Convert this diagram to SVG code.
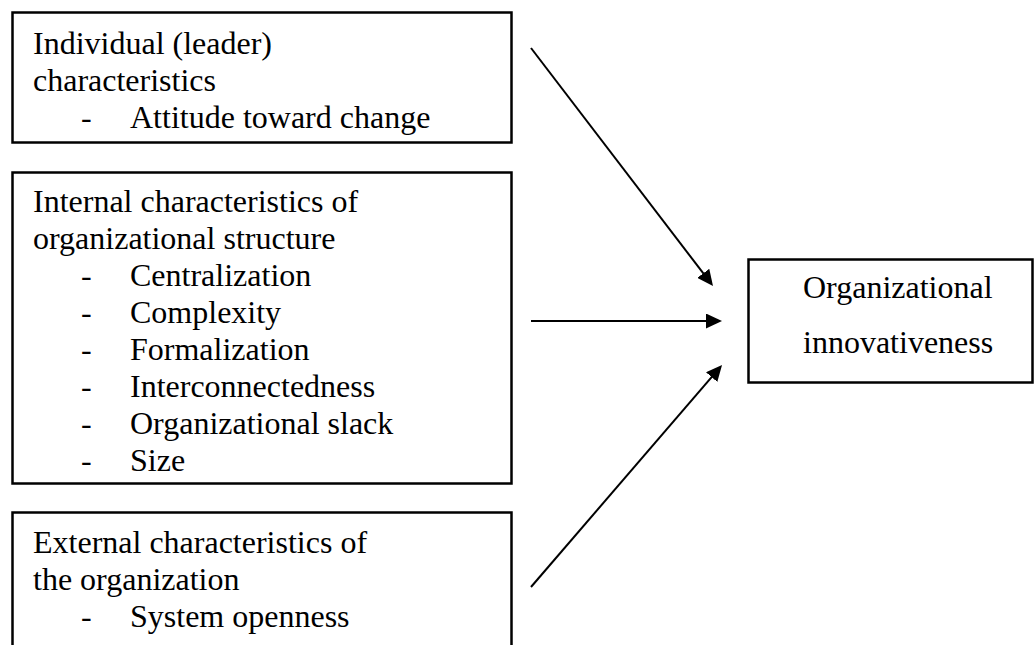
<svg xmlns="http://www.w3.org/2000/svg" width="1034" height="645" viewBox="0 0 1034 645">
  <style>
    .box { fill: #ffffff; stroke: #000000; stroke-width: 2.5; }
    .label { font-family: "Liberation Serif", "Times New Roman", serif; font-size: 32px; fill: #000000; }
    .edge { fill: none; stroke: #000000; stroke-width: 2; }
  </style>
  <defs>
    <marker id="arrowhead" markerUnits="userSpaceOnUse" markerWidth="16" markerHeight="15" refX="2" refY="7.5" orient="auto">
      <path d="M0,0 L16,7.5 L0,15 Z" fill="#000000"/>
    </marker>
  </defs>
  <rect x="0" y="0" width="1034" height="645" fill="#ffffff"/>

  <g id="node-individual">
    <rect class="box" x="12.5" y="12.5" width="499" height="130"/>
    <text class="label" x="33" y="54">Individual (leader)</text>
    <text class="label" x="33" y="91">characteristics</text>
    <text class="label" x="81" y="128">-</text>
    <text class="label" x="130" y="128">Attitude toward change</text>
  </g>

  <g id="node-internal">
    <rect class="box" x="12.5" y="172.5" width="499" height="311"/>
    <text class="label" x="33" y="212">Internal characteristics of</text>
    <text class="label" x="33" y="249">organizational structure</text>
    <text class="label" x="81" y="286">-</text>
    <text class="label" x="130" y="286">Centralization</text>
    <text class="label" x="81" y="323">-</text>
    <text class="label" x="130" y="323">Complexity</text>
    <text class="label" x="81" y="360">-</text>
    <text class="label" x="130" y="360">Formalization</text>
    <text class="label" x="81" y="397">-</text>
    <text class="label" x="130" y="397">Interconnectedness</text>
    <text class="label" x="81" y="434">-</text>
    <text class="label" x="130" y="434">Organizational slack</text>
    <text class="label" x="81" y="471">-</text>
    <text class="label" x="130" y="471">Size</text>
  </g>

  <g id="node-external">
    <rect class="box" x="12.5" y="512.5" width="499" height="160"/>
    <text class="label" x="33" y="553">External characteristics of</text>
    <text class="label" x="33" y="590">the organization</text>
    <text class="label" x="81" y="627">-</text>
    <text class="label" x="130" y="627">System openness</text>
  </g>

  <g id="node-innovativeness">
    <rect class="box" x="748.5" y="259.5" width="284" height="123"/>
    <text class="label" x="803" y="298">Organizational</text>
    <text class="label" x="803" y="353">innovativeness</text>
  </g>

  <g id="connectors">
    <line class="edge" x1="531" y1="48" x2="704.5" y2="274.9" marker-end="url(#arrowhead)"/>
    <line class="edge" x1="531" y1="321" x2="708" y2="321" marker-end="url(#arrowhead)"/>
    <line class="edge" x1="531" y1="587" x2="712.9" y2="375.6" marker-end="url(#arrowhead)"/>
  </g>
</svg>
